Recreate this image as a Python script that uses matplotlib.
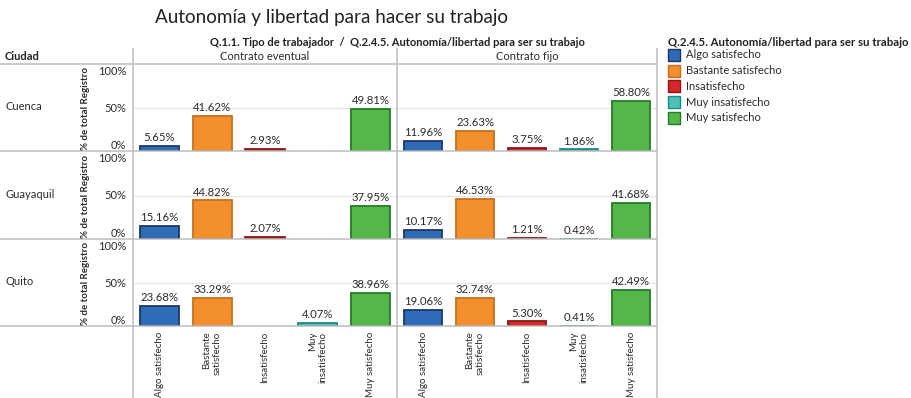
import numpy as np
import matplotlib
matplotlib.use("Agg")
import matplotlib.pyplot as plt
from matplotlib.patches import Rectangle
from matplotlib.lines import Line2D

plt.rcParams['font.family'] = ['Lato', 'DejaVu Sans']

# ---------------- data ----------------
title = "Autonomía y libertad para hacer su trabajo"
header = "Q.1.1. Tipo de trabajador  /  Q.2.4.5. Autonomía/libertad para ser su trabajo"
legend_title = "Q.2.4.5. Autonomía/libertad para ser su trabajo"
cities = ["Cuenca", "Guayaquil", "Quito"]
contracts = ["Contrato eventual", "Contrato fijo"]
categories = ["Algo satisfecho", "Bastante satisfecho", "Insatisfecho",
              "Muy insatisfecho", "Muy satisfecho"]
tick_labels = ["Algo satisfecho", "Bastante\nsatisfecho", "Insatisfecho",
               "Muy\ninsatisfecho", "Muy satisfecho"]

nan = np.nan
eventual_cuenca = [5.65, 41.62, 2.93, nan, 49.81]
eventual_guayaquil = [15.16, 44.82, 2.07, nan, 37.95]
eventual_quito = [23.68, 33.29, nan, 4.07, 38.96]
fijo_cuenca = [11.96, 23.63, 3.75, 1.86, 58.80]
fijo_guayaquil = [10.17, 46.53, 1.21, 0.42, 41.68]
fijo_quito = [19.06, 32.74, 5.30, 0.41, 42.49]

values = {
    ("Cuenca", "Contrato eventual"): eventual_cuenca,
    ("Guayaquil", "Contrato eventual"): eventual_guayaquil,
    ("Quito", "Contrato eventual"): eventual_quito,
    ("Cuenca", "Contrato fijo"): fijo_cuenca,
    ("Guayaquil", "Contrato fijo"): fijo_guayaquil,
    ("Quito", "Contrato fijo"): fijo_quito,
}

fill_colors = ["#2f6cb8", "#f28e2b", "#d9262b", "#4cc3b9", "#54b848"]
edge_colors = ["#1b3768", "#c66f1c", "#8c1717", "#1d8a80", "#257a2a"]

# ---------------- layout (pixels) ----------------
W, H = 911, 398
fig = plt.figure(figsize=(W / 100, H / 100), dpi=100)
fig.patch.set_facecolor("white")

def fx(x):
    return x / W

def fy(y):
    return 1 - y / H

col_x = [(133, 397), (397, 657)]
row_y = [(64, 151), (151, 239), (239, 326)]
grid_c = "#bdbdbd"
text_c = "#2b2b2b"

for ri, city in enumerate(cities):
    y0, y1 = row_y[ri]
    for ci, con in enumerate(contracts):
        x0, x1 = col_x[ci]
        ax = fig.add_axes([fx(x0), fy(y1), (x1 - x0) / W, (y1 - y0) / H])
        ax.set_facecolor("none")
        vals = values[(city, con)]
        xs = np.arange(len(categories))
        for i, v in enumerate(vals):
            if np.isnan(v):
                continue
            ax.bar(xs[i], v, width=0.74, color=fill_colors[i],
                   edgecolor=edge_colors[i], linewidth=1.3, zorder=3)
            ax.annotate(f"{v:.2f}%", (xs[i], v), xytext=(0, 2),
                        textcoords="offset points", ha="center", va="bottom",
                        fontsize=8.2, color=text_c, zorder=4)
        ax.set_xlim(-0.5, 4.5)
        ax.set_ylim(0, 102)
        ax.axhline(50, color="#e4e4e4", lw=0.8, zorder=1)
        for s in ax.spines.values():
            s.set_visible(False)
        ax.set_yticks([])
        if ri == 2:
            ax.set_xticks(xs)
            ax.set_xticklabels(tick_labels, rotation=90, fontsize=7,
                               color=text_c, multialignment="right")
            ax.tick_params(axis="x", length=0, pad=4)
        else:
            ax.set_xticks([])
        if ci == 0:
            for t, lab, va in [(0, "0%", "bottom"), (50, "50%", "center"),
                               (100, "100%", "top")]:
                ax.annotate(lab, (0, t), xycoords=("axes fraction", "data"),
                            xytext=(-5, 0), textcoords="offset points",
                            ha="right", va=va, fontsize=8, color=text_c)
            fig.text(fx(86), fy((y0 + y1) / 2 + 1), "% de total Registro",
                     rotation=90, ha="center", va="center", fontsize=7.0,
                     fontweight="bold", color=text_c)
            fig.text(fx(5), fy((y0 + y1) / 2 - 1), city, ha="left",
                     va="center", fontsize=8, color=text_c)

# separator lines
lines = [
    ((0, 657), (64, 64)),
    ((0, 657), (151, 151)),
    ((0, 657), (239, 239)),
    ((0, 657), (326, 326)),
    ((133, 133), (49, 398)),
    ((397, 397), (49, 398)),
    ((657, 657), (49, 398)),
]
for (xa, xb), (ya, yb) in lines:
    fig.add_artist(Line2D([fx(xa), fx(xb)], [fy(ya), fy(yb)],
                          color=grid_c, lw=1.1, transform=fig.transFigure))

# texts
fig.text(fx(155), fy(17), title, ha="left", va="center", fontsize=13.6,
         color="#222222")
fig.text(fx(397), fy(42), header, ha="center", va="center", fontsize=8,
         fontweight="bold", color="#222222")
fig.text(fx(5), fy(57), "Ciudad", ha="left", va="center", fontsize=8,
         fontweight="bold", color="#222222")
for ci, con in enumerate(contracts):
    x0, x1 = col_x[ci]
    fig.text(fx((x0 + x1) / 2), fy(57), con, ha="center", va="center",
             fontsize=8, color=text_c)

# legend
fig.text(fx(668), fy(42), legend_title, ha="left", va="center", fontsize=8.2,
         fontweight="bold", color="#222222")
for i, cat in enumerate(categories):
    yc = 55 + i * 15.7
    fig.add_artist(Rectangle((fx(668), fy(yc + 6)), 12 / W, 12 / H,
                             facecolor=fill_colors[i], edgecolor=edge_colors[i],
                             lw=1.0, transform=fig.transFigure))
    fig.text(fx(686), fy(yc), cat, ha="left", va="center", fontsize=8,
             color=text_c)

fig.savefig("out.png", dpi=100, facecolor="white")
